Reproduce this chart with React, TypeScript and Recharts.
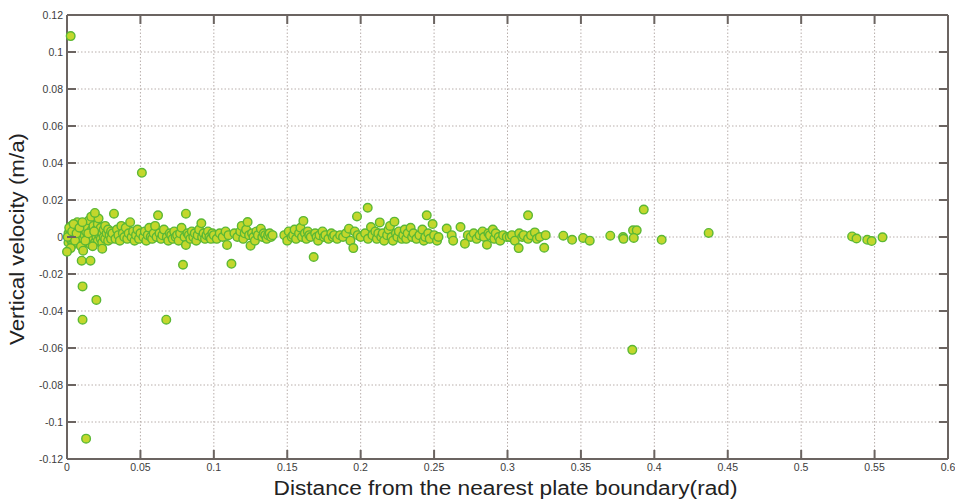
import React from 'react';
import { CartesianGrid, Scatter, ScatterChart, XAxis, YAxis } from 'recharts';

// distance from boundary (rad), vertical velocity (m/a)
const nearBoundary: [number, number][] = [
  [0.001, 0.002], [0.001, -0.003], [0.002, 0.004], [0.002, 0], [0.003, -0.002], [0.003, 0.006],
  [0.004, 0.001], [0.004, -0.004], [0.005, 0.003], [0.005, -0.001], [0.006, 0.005], [0.006, -0.003],
  [0.007, 0.001], [0.007, 0.008], [0.008, -0.002], [0.008, 0.003], [0.009, 0], [0.009, 0.006],
  [0.01, -0.004], [0.01, 0.002], [0.011, 0.004], [0.011, -0.001], [0.012, 0.007], [0.012, 0.001],
  [0.013, -0.003], [0.013, 0.003], [0.014, 0], [0.014, 0.005], [0.015, -0.002], [0.015, 0.009],
  [0.016, 0.002], [0.016, -0.004], [0.017, 0.004], [0.017, 0], [0.018, -0.001], [0.018, 0.006],
  [0.019, 0.002], [0.019, -0.003], [0.02, 0.004], [0.02, 0], [0.021, 0.007], [0.021, -0.002],
  [0.022, 0.001], [0.022, 0.003], [0.023, -0.001], [0.023, 0.005], [0.024, 0.002], [0.024, -0.003],
  [0.025, 0], [0.025, 0.004], [0.026, 0.006], [0.026, -0.001], [0.027, 0.002], [0.028, 0.004],
  [0.028, -0.002], [0.029, 0.001], [0.03, 0.003], [0.03, -0.001], [0.0005, 0], [0.0015, 0.005],
  [0.0025, -0.006], [0.0035, 0.003], [0.0045, 0.007], [0.0055, -0.002], [0.0065, 0.002], [0.0085, 0.005],
  [0.0095, -0.005], [0.0105, 0.008], [0.0125, -0.002], [0.0145, 0.002], [0.0165, 0.011], [0.0175, -0.005],
  [0.0185, 0.003], [0.0215, 0.01], [0.019, 0.013],
];

const innerRange: [number, number][] = [
  [0.031, 0.002], [0.032, 0.0126], [0.033, -0.001], [0.034, 0.004], [0.035, 0.001], [0.036, -0.002],
  [0.037, 0.006], [0.038, 0.002], [0.039, 0], [0.04, 0.005], [0.041, -0.001], [0.042, 0.002],
  [0.043, 0.008], [0.044, 0], [0.045, 0.003], [0.046, -0.002], [0.047, 0.001], [0.048, 0.004],
  [0.049, -0.001], [0.05, 0.002], [0.052, 0], [0.053, 0.003], [0.054, -0.002], [0.055, 0.001],
  [0.056, 0.005], [0.057, 0], [0.058, -0.001], [0.059, 0.002], [0.06, 0.006], [0.061, 0],
  [0.062, 0.0117], [0.063, 0.002], [0.064, -0.001], [0.065, 0.001], [0.066, 0.004], [0.068, 0],
  [0.069, -0.002], [0.07, 0.002], [0.071, 0.001], [0.072, -0.001], [0.073, 0.003], [0.074, 0],
  [0.075, 0.001], [0.076, -0.002], [0.077, 0.002], [0.078, 0.005], [0.08, 0], [0.081, 0.0126],
  [0.081, -0.0043], [0.082, 0.002], [0.083, 0.001], [0.084, -0.001], [0.085, 0.003], [0.086, 0],
  [0.087, 0.002], [0.088, -0.002], [0.089, 0.001], [0.09, 0.004], [0.0915, 0.0074], [0.092, 0],
  [0.093, 0.002], [0.094, -0.001], [0.095, 0.001], [0.096, 0.003], [0.097, 0], [0.098, -0.001],
  [0.099, 0.002],
];

const middleRange: [number, number][] = [
  [0.1, 0.001], [0.102, -0.001], [0.104, 0.002], [0.106, 0], [0.108, 0.003], [0.109, -0.0043],
  [0.11, 0.001], [0.114, 0.002], [0.116, 0], [0.118, 0.003], [0.119, 0.006], [0.12, -0.001],
  [0.121, 0.002], [0.122, 0.004], [0.123, 0.0081], [0.124, 0.001], [0.125, -0.0047], [0.126, 0.002],
  [0.127, 0], [0.128, -0.002], [0.129, 0.003], [0.13, 0.001], [0.132, 0.0045], [0.133, 0],
  [0.134, 0.002], [0.135, 0.001], [0.136, -0.001], [0.137, 0.001], [0.138, 0.002], [0.139, 0],
  [0.14, 0.001], [0.148, 0.001], [0.15, -0.002], [0.151, 0.003], [0.153, 0], [0.154, 0.001],
  [0.155, 0.004], [0.156, -0.001], [0.158, 0.002], [0.159, 0.005], [0.16, 0], [0.161, 0.0087],
  [0.162, 0.002], [0.163, -0.001], [0.164, 0.003], [0.165, 0.001], [0.166, 0], [0.169, 0.002],
  [0.17, 0], [0.171, -0.002], [0.172, 0.001], [0.174, 0.003], [0.175, 0], [0.176, 0.001],
  [0.178, -0.001], [0.18, 0.002], [0.181, 0], [0.182, 0.001], [0.184, -0.001], [0.186, 0.001],
  [0.188, 0], [0.19, 0.002], [0.192, 0.0045], [0.193, -0.002], [0.195, -0.006], [0.196, 0.003],
  [0.1975, 0.0111], [0.198, 0.001], [0.2, 0],
];

const outerRange: [number, number][] = [
  [0.2048, 0.0158], [0.203, 0.002], [0.205, -0.001], [0.207, 0.0054], [0.208, 0.001], [0.21, 0.003],
  [0.211, -0.001], [0.212, 0.002], [0.213, 0.0079], [0.214, 0], [0.215, 0.002], [0.216, -0.002],
  [0.218, 0.001], [0.219, 0.004], [0.22, 0.006], [0.221, 0], [0.222, -0.002], [0.223, 0.0083],
  [0.224, 0.002], [0.225, 0], [0.226, 0.003], [0.228, -0.001], [0.229, 0.001], [0.23, 0.004],
  [0.231, -0.001], [0.232, 0.002], [0.234, 0.005], [0.235, 0], [0.236, 0.002], [0.238, -0.001],
  [0.24, 0.001], [0.242, 0.004], [0.243, -0.002], [0.244, 0], [0.245, 0.0117], [0.246, 0.002],
  [0.247, -0.001], [0.249, 0.007], [0.25, 0.001], [0.252, -0.002], [0.253, 0], [0.2586, 0.0046],
  [0.262, 0.001], [0.263, -0.002], [0.268, 0.0054], [0.271, -0.0036], [0.273, 0.001], [0.275, 0],
  [0.277, 0.002], [0.279, -0.001], [0.281, 0.001], [0.283, 0.003], [0.284, 0], [0.286, -0.0042],
  [0.287, 0.002], [0.288, 0.001], [0.29, 0.004], [0.291, -0.001], [0.292, 0.002], [0.294, 0],
  [0.295, -0.002], [0.297, 0.001], [0.2995, 0], [0.3015, 0], [0.303, 0.001], [0.305, -0.002],
  [0.3076, -0.006], [0.308, 0.002], [0.31, 0], [0.311, 0.001], [0.314, 0.0117], [0.314, -0.001],
  [0.316, 0.001], [0.3186, 0.0025], [0.32, -0.001], [0.322, 0], [0.325, -0.0058], [0.326, 0.001],
  [0.338, 0.0007], [0.344, -0.0015], [0.3515, -0.0005], [0.356, -0.002], [0.37, 0.0007], [0.3787, 0],
  [0.379, -0.001], [0.3855, 0.0036], [0.388, 0.0036], [0.386, -0.0005], [0.3928, 0.0148], [0.405, -0.0015],
  [0.437, 0.0022], [0.5347, 0.0003], [0.5377, -0.0008], [0.545, -0.0015], [0.548, -0.0022], [0.5554, -0.0002],
];

const outliers: [number, number][] = [
  [0.0025, 0.1086], [0.013, -0.109], [0.051, 0.0347], [0.0106, -0.0267], [0.02, -0.034],
  [0.0106, -0.0447], [0.0676, -0.0447], [0.079, -0.015], [0.112, -0.0145], [0.168, -0.0108],
  [0.01, -0.0128], [0.016, -0.0128], [0.011, -0.0074], [0, -0.008], [0.385, -0.061], [0.024, -0.0063],
];

const xTicks = [0, 0.05, 0.1, 0.15, 0.2, 0.25, 0.3, 0.35, 0.4, 0.45, 0.5, 0.55, 0.6];
const yTicks = [-0.12, -0.1, -0.08, -0.06, -0.04, -0.02, 0, 0.02, 0.04, 0.06, 0.08, 0.1, 0.12];

const points = [...nearBoundary, ...innerRange, ...middleRange, ...outerRange, ...outliers].map(
  ([d, v]) => ({ d, v })
);

const W = 955;
const H = 499;
const MARGIN = { top: 15, right: 7, bottom: 0, left: 0 };
const Y_AXIS_W = 67;
const X_AXIS_H = 40;
const PLOT_TOP = MARGIN.top;
const PLOT_BOTTOM = H - MARGIN.bottom - X_AXIS_H;
const PLOT_LEFT = MARGIN.left + Y_AXIS_W;
const PLOT_RIGHT = W - MARGIN.right;
const TICK_LEN = 9;

const AXIS = '#6b6461';
const GRID = '#b8aeab';
const FONT = '"Liberation Sans", Arial, sans-serif';
const fmt = (v: number) => String(Number(v.toFixed(2)));

const Dot = (props: any) => (
  <circle cx={props.cx} cy={props.cy} r={4.3} fill="#c3d72c" stroke="#5bb834" strokeWidth={1.4} />
);

// labels plus inward tick marks on both sides (matlab box style)
const XTick = ({ x, y, payload }: any) => (
  <g>
    <line x1={x} x2={x} y1={PLOT_BOTTOM} y2={PLOT_BOTTOM - TICK_LEN} stroke={AXIS} strokeWidth={2} />
    <line x1={x} x2={x} y1={PLOT_TOP} y2={PLOT_TOP + TICK_LEN} stroke={AXIS} strokeWidth={2} />
    <text x={x} y={y} dy="0.71em" textAnchor="middle" fontSize={10.5} fontFamily={FONT} fill="#3c3c3c">
      {fmt(payload.value)}
    </text>
  </g>
);

const YTick = ({ x, y, payload }: any) => (
  <g>
    <line x1={PLOT_LEFT} x2={PLOT_LEFT + TICK_LEN} y1={y} y2={y} stroke={AXIS} strokeWidth={2} />
    <line x1={PLOT_RIGHT - TICK_LEN} x2={PLOT_RIGHT} y1={y} y2={y} stroke={AXIS} strokeWidth={2} />
    <text x={x} y={y} dy="0.35em" textAnchor="end" fontSize={10.5} fontFamily={FONT} fill="#3c3c3c">
      {fmt(payload.value)}
    </text>
  </g>
);

export default function App() {
  return (
    <div style={{ position: 'absolute', left: 0, top: 0, background: '#fff' }}>
      <ScatterChart width={W} height={H} margin={MARGIN}>
        <CartesianGrid stroke={GRID} strokeDasharray="1.5 2" />
        <XAxis
          type="number"
          dataKey="d"
          domain={[0, 0.6]}
          ticks={xTicks}
          interval={0}
          height={X_AXIS_H}
          tickLine={false}
          tickSize={3}
          tickMargin={2}
          axisLine={{ stroke: AXIS, strokeWidth: 2 }}
          tick={<XTick />}
          label={{
            content: ({ viewBox }: any) => (
              <text
                x={viewBox.x + viewBox.width / 2 - 2}
                y={viewBox.y + viewBox.height - 4}
                textAnchor="middle"
                fontSize={20}
                textLength={464}
                lengthAdjust="spacingAndGlyphs"
                fontFamily={FONT}
                fill="#222"
              >
                Distance from the nearest plate boundary(rad)
              </text>
            ),
          }}
        />
        <XAxis
          xAxisId="top"
          orientation="top"
          type="number"
          domain={[0, 0.6]}
          allowDataOverflow
          mirror
          tick={false}
          tickLine={false}
          axisLine={{ stroke: AXIS, strokeWidth: 2 }}
        />
        <YAxis
          type="number"
          dataKey="v"
          domain={[-0.12, 0.12]}
          ticks={yTicks}
          interval={0}
          width={Y_AXIS_W}
          tickLine={false}
          tickSize={3}
          tickMargin={1}
          axisLine={{ stroke: AXIS, strokeWidth: 2 }}
          tick={<YTick />}
          label={{
            content: ({ viewBox }: any) => {
              const cx = 24;
              const cy = viewBox.y + viewBox.height / 2 + 2;
              return (
                <text
                  x={cx}
                  y={cy}
                  transform={`rotate(-90, ${cx}, ${cy})`}
                  textAnchor="middle"
                  fontSize={20}
                  textLength={212}
                  lengthAdjust="spacingAndGlyphs"
                  fontFamily={FONT}
                  fill="#222"
                >
                  Vertical velocity (m/a)
                </text>
              );
            },
          }}
        />
        <YAxis
          yAxisId="right"
          orientation="right"
          type="number"
          domain={[-0.12, 0.12]}
          allowDataOverflow
          mirror
          tick={false}
          tickLine={false}
          axisLine={{ stroke: AXIS, strokeWidth: 2 }}
        />
        <Scatter data={points} shape={Dot} isAnimationActive={false} />
      </ScatterChart>
    </div>
  );
}
